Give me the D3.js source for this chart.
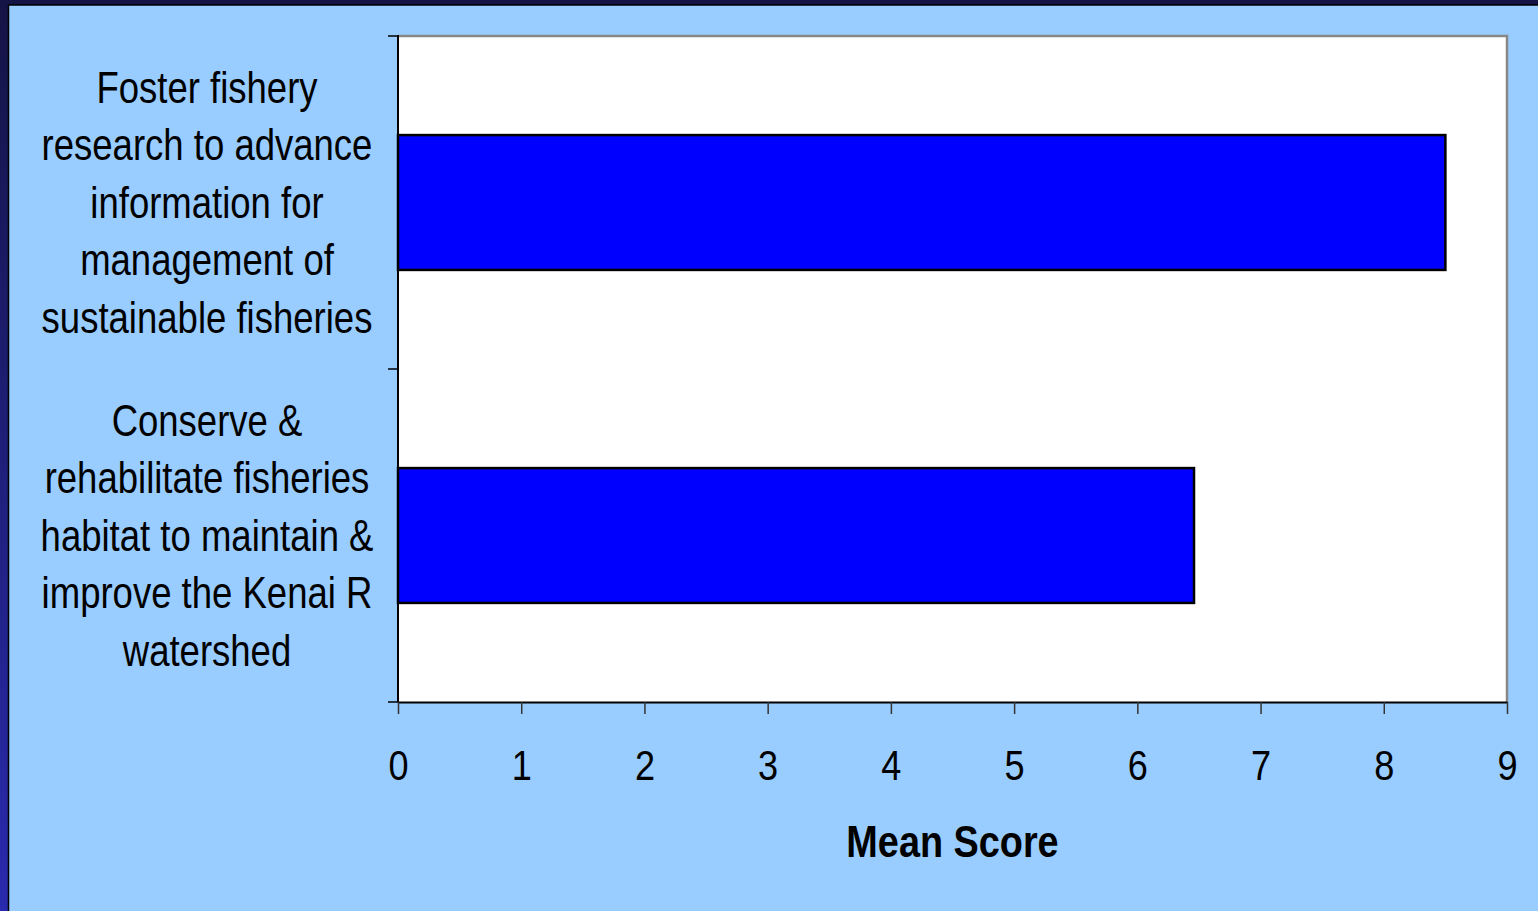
<!DOCTYPE html>
<html>
<head>
<meta charset="utf-8">
<script src="https://cdn.jsdelivr.net/npm/d3@7"></script>
<style>
  html, body { margin: 0; padding: 0; background: #99ccff; overflow: hidden; }
  text { font-family: "Liberation Sans", Arial, sans-serif; fill: #000; }
</style>
</head>
<body>
<div id="chart"></div>
<script>
// chart data
const categories = [
    "Foster fishery research to advance information for management of sustainable fisheries",
    "Conserve & rehabilitate fisheries habitat to maintain & improve the Kenai R watershed"
];
const labelLines = [
    ["Foster fishery", "research to advance", "information for", "management of", "sustainable fisheries"],
    ["Conserve &", "rehabilitate fisheries", "habitat to maintain &", "improve the Kenai R", "watershed"]
];
const meanScores = [8.5, 6.46];
const xTicks = [0, 1, 2, 3, 4, 5, 6, 7, 8, 9];
const xTitle = "Mean Score";

const W = 1538, H = 911;
const margin = {top: 36, right: 31, bottom: 209, left: 398};
const width = W - margin.left - margin.right;
const height = H - margin.top - margin.bottom;
const squeeze = 0.83;

const svg = d3.select('#chart').append('svg')
    .attr('width', W)
    .attr('height', H);

// slide background
const grad = svg.append('defs').append('linearGradient')
    .attr('id', 'edge').attr('x1', 0).attr('y1', 0).attr('x2', 0).attr('y2', 1);
grad.append('stop').attr('offset', '0%').attr('stop-color', '#141446');
grad.append('stop').attr('offset', '100%').attr('stop-color', '#2a2aae');

svg.append('rect').attr('width', W).attr('height', H).attr('fill', '#99ccff');
svg.append('rect').attr('width', W).attr('height', 5).attr('fill', '#131345');
svg.append('rect').attr('width', 8).attr('height', H).attr('fill', 'url(#edge)');
svg.append('line').attr('x1', 8.5).attr('x2', 8.5).attr('y1', 5).attr('y2', H)
    .attr('stroke', '#000').attr('stroke-width', 1.5);
svg.append('line').attr('x1', 8).attr('x2', W).attr('y1', 5).attr('y2', 5)
    .attr('stroke', '#000').attr('stroke-width', 1.5);

const chart = svg.append('g')
    .attr('transform', `translate(${margin.left},${margin.top})`);

const xScale = d3.scaleLinear()
    .domain([0, 9])
    .range([0, width]);

const yScale = d3.scaleBand()
    .domain(categories)
    .range([0, height])
    .paddingInner(0.595)
    .paddingOuter(0.2975);

// plot area
chart.append('rect')
    .attr('width', width)
    .attr('height', height)
    .attr('fill', '#fff');

chart.append('path')
    .attr('d', `M0,0H${width}V${height}`)
    .attr('fill', 'none')
    .attr('stroke', '#888')
    .attr('stroke-width', 2.5);

// bars
chart.selectAll('.bar')
    .data(categories)
    .enter().append('rect')
    .attr('class', 'bar')
    .attr('x', 0)
    .attr('y', d => yScale(d))
    .attr('width', (d, i) => xScale(meanScores[i]))
    .attr('height', yScale.bandwidth())
    .attr('fill', '#0000ff')
    .attr('stroke', '#000')
    .attr('stroke-width', 2.5);

// x axis
const xAxisG = chart.append('g')
    .attr('transform', `translate(0,${height})`)
    .call(d3.axisBottom(xScale)
        .tickValues(xTicks)
        .tickSize(12)
        .tickSizeOuter(0)
        .tickFormat(d3.format('d')));
xAxisG.select('.domain').attr('stroke', '#000').attr('stroke-width', 2);
xAxisG.selectAll('.tick line').attr('stroke', '#333').attr('stroke-width', 1.5);
xAxisG.selectAll('.tick text')
    .attr('y', 0).attr('dy', 0)
    .attr('transform', 'translate(0,78) scale(0.86,1)')
    .style('font-size', '42px')
    .style('font-family', '"Liberation Sans", Arial, sans-serif')
    .attr('fill', '#000');

// y axis: ticks at category boundaries
const yBounds = [0, yScale.step(), height];
chart.append('line')
    .attr('x1', 0).attr('x2', 0).attr('y1', -1).attr('y2', height)
    .attr('stroke', '#000').attr('stroke-width', 2);
chart.selectAll('.ytick')
    .data(yBounds)
    .enter().append('line')
    .attr('class', 'ytick')
    .attr('x1', -10).attr('x2', 0)
    .attr('y1', d => d).attr('y2', d => d)
    .attr('stroke', '#000').attr('stroke-width', 1.5);

// category labels
const lineH = 57.5;
const labelG = chart.selectAll('.cat')
    .data(categories)
    .enter().append('g')
    .attr('class', 'cat')
    .attr('transform', d => `translate(${207 - margin.left},${yScale(d) + yScale.bandwidth() / 2})`);

labelG.each(function(d, i) {
    const lines = labelLines[i];
    const g = d3.select(this);
    lines.forEach((t, j) => {
        g.append('text')
            .attr('transform', `translate(0,${(j - (lines.length - 1) / 2) * lineH + 15}) scale(${squeeze},1)`)
            .attr('text-anchor', 'middle')
            .style('font-size', '44px')
            .text(t);
    });
});

// axis title
svg.append('text')
    .attr('transform', `translate(${margin.left + width / 2},857) scale(0.86,1)`)
    .attr('text-anchor', 'middle')
    .style('font-size', '44px')
    .style('font-weight', 'bold')
    .text(xTitle);
</script>
</body>
</html>
